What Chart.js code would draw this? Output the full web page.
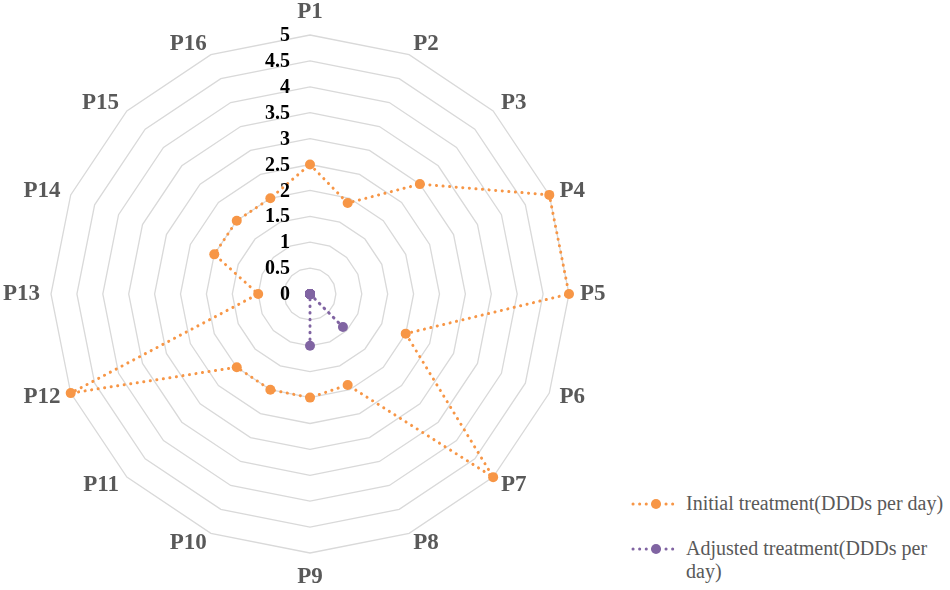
<!DOCTYPE html>
<html>
<head>
<meta charset="utf-8">
<script src="https://cdn.jsdelivr.net/npm/chart.js@4"></script>
<style>
  body { margin: 0; background: #fff; }
  #wrap { position: relative; width: 950px; height: 590px; }
  #chart-box { position: absolute; left: 0; top: 0; width: 620px; height: 590px; }
  .legend { position: absolute; left: 630px; font-family: 'Liberation Serif', serif; font-size: 20px; color: #595959; }
  .legend .item { position: relative; padding-left: 56px; line-height: 23px; width: 262px; }
  .legend canvas { position: absolute; left: 0; top: 1px; }
</style>
</head>
<body>
<div id="wrap">
  <div id="chart-box"><canvas id="radar"></canvas></div>
  <div class="legend" id="legend" style="top:492px"></div>
</div>
<script>
// axis names
const patients = ["P1", "P2", "P3", "P4", "P5", "P6", "P7", "P8",
                  "P9", "P10", "P11", "P12", "P13", "P14", "P15", "P16"];

// DDDs per day
const initialTreatment = [2.5, 1.9, 3, 5, 5, 2, 5, 1.9, 2, 2, 2, 5, 1, 2, 2, 2];
const adjustedTreatment = [0, 0, 0, 0, 0, 0, 0.9, 0, 1, 0, 0, 0, 0, 0, 0, 0];

const tickValues = [0, 0.5, 1, 1.5, 2, 2.5, 3, 3.5, 4, 4.5, 5];

const seriesNames = ["Initial treatment(DDDs per day)", "Adjusted treatment(DDDs per day)"];
const seriesColors = ["#F79646", "#8064A2"];

// tick labels left of the vertical axis, point labels centred on their ray (Excel style)
const labelPlugin = {
    id: "excelLabels",
    afterDraw(chart) {
        const scale = chart.scales.r;
        const ctx = chart.ctx;
        ctx.save();
        ctx.font = "bold 20px 'Liberation Serif', serif";
        ctx.fillStyle = "#000";
        ctx.textAlign = "right";
        ctx.textBaseline = "middle";
        tickValues.forEach(v => {
            const d = scale.getDistanceFromCenterForValue(v);
            ctx.fillText(String(v), scale.xCenter - 20, scale.yCenter - d + 1);
        });

        ctx.font = "bold 23px 'Liberation Serif', serif";
        ctx.fillStyle = "#595959";
        patients.forEach((name, i) => {
            const p = scale.getPointPosition(i, scale.drawingArea + 11);
            const dx = p.x - scale.xCenter;
            let y = p.y;
            if (Math.abs(dx) < 1) {
                ctx.textAlign = "center";
                ctx.textBaseline = p.y < scale.yCenter ? "bottom" : "top";
                if (p.y > scale.yCenter) y += 2;
            } else {
                ctx.textAlign = dx > 0 ? "left" : "right";
                ctx.textBaseline = "middle";
            }
            ctx.fillText(name, p.x, y);
        });
        ctx.restore();
    }
};

function makeDataset(i, values) {
    return {
        label: seriesNames[i],
        data: values,
        fill: false,
        borderColor: seriesColors[i],
        backgroundColor: seriesColors[i],
        borderWidth: 3,
        borderDash: [0.1, 6.5],
        borderCapStyle: "round",
        pointRadius: 5,
        pointHoverRadius: 5,
        pointBorderWidth: 0,
        pointBackgroundColor: seriesColors[i],
        tension: 0
    };
}

new Chart(document.getElementById("radar").getContext("2d"), {
    type: "radar",
    data: {
        labels: patients,
        datasets: [
            makeDataset(1, adjustedTreatment),
            makeDataset(0, initialTreatment)
        ]
    },
    options: {
        responsive: true,
        maintainAspectRatio: false,
        animation: false,
        layout: { padding: { top: 35, bottom: 37, left: 0, right: 0 } },
        plugins: {
            legend: { display: false },
            tooltip: { enabled: false }
        },
        scales: {
            r: {
                min: 0,
                max: 5,
                beginAtZero: true,
                ticks: { stepSize: 0.5, display: false },
                grid: { color: "#D9D9D9", lineWidth: 1.3 },
                angleLines: { display: false },
                pointLabels: { display: false }
            }
        }
    },
    plugins: [labelPlugin]
});

// legend with a small dotted sample for each series
const legend = document.getElementById("legend");
seriesNames.forEach((name, i) => {
    const item = document.createElement("div");
    item.className = "item";
    item.style.marginBottom = "22px";
    const c = document.createElement("canvas");
    c.width = 50; c.height = 22;
    const g = c.getContext("2d");
    g.strokeStyle = seriesColors[i];
    g.lineWidth = 3;
    g.lineCap = "round";
    g.setLineDash([0.1, 6.5]);
    g.beginPath(); g.moveTo(3, 11); g.lineTo(49, 11); g.stroke();
    g.fillStyle = seriesColors[i];
    g.beginPath(); g.arc(26, 11, 5, 0, Math.PI * 2); g.fill();
    item.appendChild(c);
    item.appendChild(document.createTextNode(name));
    legend.appendChild(item);
});
</script>
</body>
</html>
